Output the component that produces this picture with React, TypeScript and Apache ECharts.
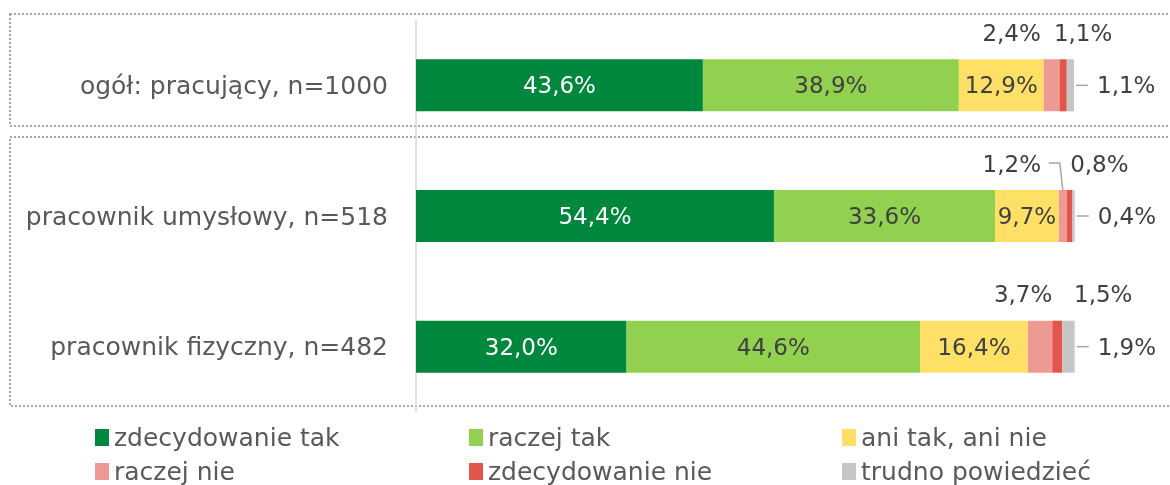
import React, { useEffect, useRef } from "react";
import * as echarts from "echarts";

const categories = ["ogół: pracujący, n=1000", "pracownik umysłowy, n=518", "pracownik fizyczny, n=482"];
const seriesNames = ["zdecydowanie tak", "raczej tak", "ani tak, ani nie", "raczej nie", "zdecydowanie nie", "trudno powiedzieć"];
const zdecydowanieTak = [43.6, 54.4, 32.0];
const raczejTak = [38.9, 33.6, 44.6];
const aniTakAniNie = [12.9, 9.7, 16.4];
const raczejNie = [2.4, 1.2, 3.7];
const zdecydowanieNie = [1.1, 0.8, 1.5];
const trudnoPowiedziec = [1.1, 0.4, 1.9];

const colors = ["#00873E", "#92D050", "#FFE066", "#EE9A94", "#E2554A", "#C6C6C6"];
// label horizontal offsets (styling) for small labels drawn above bars
const raczejNieOffsets = [-40, -51, -17];
const zdecNieOffsets = [20, 30, 46];
const leaderToAbove = [false, true, false];
// legend layout: column lefts and row tops (styling)
const legendLefts = [95, 469, 842, 95, 469, 842];
const legendTops = [425, 425, 425, 459, 459, 459];
const legendOrder = [0, 1, 2, 3, 4, 5];

const FONT = "DejaVu Sans";
const fmt = (v: number) => v.toFixed(1).replace(".", ",") + "%";

export default function App() {
  const ref = useRef<HTMLDivElement>(null);
  useEffect(() => {
    if (!ref.current) return;
    const chart = echarts.init(ref.current, null, { renderer: "svg" });
    const all = [zdecydowanieTak, raczejTak, aniTakAniNie, raczejNie, zdecydowanieNie, trudnoPowiedziec];
    const barSeries: any[] = all.map((vals, si) => {
      let data: any[] = vals.map((v) => v);
      let label: any = {
        show: true,
        position: "inside",
        formatter: (p: any) => fmt(p.value),
        color: si === 0 ? "#FFFFFF" : "#404040",
        fontSize: 23,
        fontFamily: FONT,
      };
      if (si === 3 || si === 4) {
        const offs = si === 3 ? raczejNieOffsets : zdecNieOffsets;
        data = vals.map((v, i) => ({ value: v, label: { offset: [offs[i], 0] } }));
        label = { ...label, position: "top", distance: 15 };
      }
      if (si === 5) {
        label = { ...label, position: "right", distance: 23 };
      }
      return {
        name: seriesNames[si],
        type: "bar",
        stack: "total",
        barWidth: 52,
        itemStyle: { color: colors[si] },
        label,
        data,
        clip: false,
      };
    });

    const leaderData = categories.map((_, i) => [
      zdecydowanieTak[i] + raczejTak[i] + aniTakAniNie[i] + raczejNie[i] + zdecydowanieNie[i] + trudnoPowiedziec[i],
      i,
      zdecydowanieTak[i] + raczejTak[i] + aniTakAniNie[i] + raczejNie[i] / 2,
      leaderToAbove[i] ? 1 : 0,
      raczejNieOffsets[i],
    ]);

    const leaderSeries = {
      type: "custom",
      silent: true,
      z: 5,
      data: leaderData,
      encode: { x: 0, y: 1 },
      renderItem: (params: any, api: any) => {
        const end = api.coord([api.value(0), api.value(1)]);
        const children: any[] = [
          {
            type: "line",
            shape: { x1: end[0] + 2, y1: end[1], x2: end[0] + 14, y2: end[1] },
            style: { stroke: "#A6A6A6", lineWidth: 1.5 },
          },
        ];
        if (api.value(3) === 1) {
          const c = api.coord([api.value(2), api.value(1)]);
          const top = c[1] - 26;
          const ly = top - 27;
          const off = api.value(4);
          const sx = c[0] + off + 37;
          children.push({
            type: "polyline",
            shape: { points: [[sx, ly], [c[0] - 3, ly], [c[0], top]] },
            style: { stroke: "#A6A6A6", lineWidth: 1.5, fill: null },
          });
        }
        return { type: "group", children };
      },
    };

    const legends = legendOrder.map((si, k) => ({
      orient: "horizontal",
      left: legendLefts[k],
      top: legendTops[k],
      padding: 0,
      itemWidth: 14,
      itemHeight: 17,
      itemGap: 0,
      icon: "rect",
      textStyle: { fontSize: 25, color: "#595959", fontFamily: FONT },
      data: [seriesNames[si]],
    }));

    chart.setOption({
      animation: false,
      textStyle: { fontFamily: FONT },
      grid: { left: 416, right: 96, top: 20, bottom: 73, containLabel: false },
      xAxis: { type: "value", min: 0, max: 100, show: false },
      yAxis: {
        type: "category",
        data: categories,
        inverse: true,
        axisLine: { show: true, lineStyle: { color: "#D9D9D9", width: 1.5 } },
        axisTick: { show: false },
        axisLabel: { fontSize: 25, color: "#595959", fontFamily: FONT, margin: 28 },
      },
      legend: legends,
      graphic: [
        {
          type: "rect",
          shape: { x: 10, y: 14, width: 1165, height: 112 },
          style: { fill: null, stroke: "#A6A6A6", lineWidth: 2, lineDash: [2, 2] },
          z: -1,
        },
        {
          type: "rect",
          shape: { x: 10, y: 137, width: 1165, height: 269 },
          style: { fill: null, stroke: "#A6A6A6", lineWidth: 2, lineDash: [2, 2] },
          z: -1,
        },
      ],
      series: [...barSeries, leaderSeries],
    });
    return () => chart.dispose();
  }, []);
  return <div ref={ref} style={{ position: "fixed", left: 0, top: 0, width: 1170, height: 485 }} />;
}
